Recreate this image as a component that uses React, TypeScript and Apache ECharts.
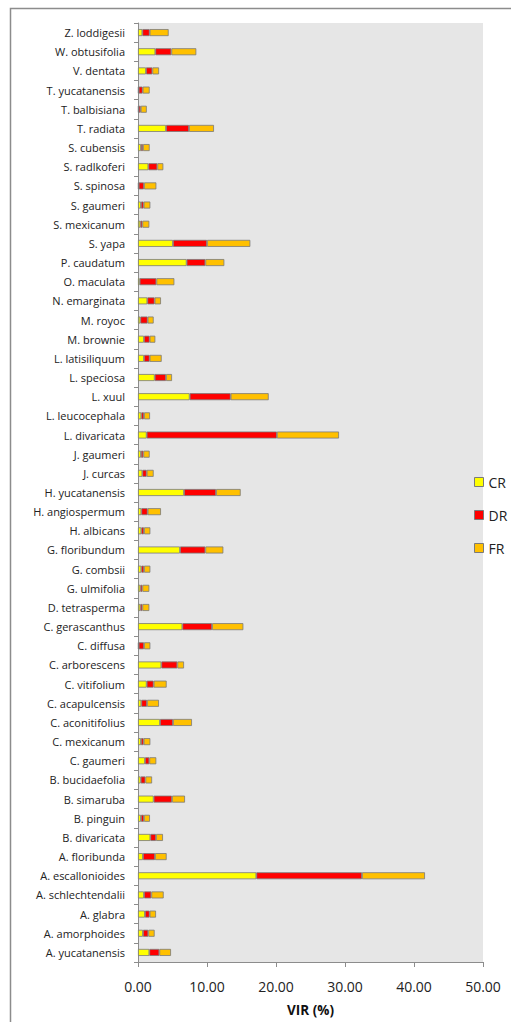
import React, { useEffect, useRef } from "react";
import * as echarts from "echarts";

const categories = [
  "A. yucatanensis", "A. amorphoides", "A. glabra", "A. schlechtendalii", "A. escallonioides",
  "A. floribunda", "B. divaricata", "B. pinguin", "B. simaruba", "B. bucidaefolia",
  "C. gaumeri", "C. mexicanum", "C. aconitifolius", "C. acapulcensis", "C. vitifolium",
  "C. arborescens", "C. diffusa", "C. gerascanthus", "D. tetrasperma", "G. ulmifolia",
  "G. combsii", "G. floribundum", "H. albicans", "H. angiospermum", "H. yucatanensis",
  "J. curcas", "J. gaumeri", "L. divaricata", "L. leucocephala", "L. xuul",
  "L. speciosa", "L. latisiliquum", "M. brownie", "M. royoc", "N. emarginata",
  "O. maculata", "P. caudatum", "S. yapa", "S. mexicanum", "S. gaumeri",
  "S. spinosa", "S. radlkoferi", "S. cubensis", "T. radiata", "T. balbisiana",
  "T. yucatanensis", "V. dentata", "W. obtusifolia", "Z. loddigesii",
];

const CR = [
  1.64, 0.72, 1.01, 0.87, 17.15,
  0.72, 1.79, 0.43, 2.27, 0.39,
  1.01, 0.43, 3.19, 0.48, 1.26,
  3.38, 0.1, 6.43, 0.34, 0.34,
  0.48, 6.09, 0.48, 0.48, 6.67,
  0.63, 0.43, 1.26, 0.48, 7.49,
  2.42, 0.87, 0.87, 0.34, 1.35,
  0.24, 7.05, 5.07, 0.34, 0.43,
  0.1, 1.5, 0.43, 4.06, 0.1,
  0.1, 1.16, 2.51, 0.63,
];

const DR = [
  1.45, 0.77, 0.68, 1.06, 15.31,
  1.74, 0.82, 0.43, 2.66, 0.68,
  0.63, 0.39, 1.88, 0.82, 1.01,
  2.32, 0.77, 4.3, 0.29, 0.29,
  0.39, 3.67, 0.39, 0.92, 4.64,
  0.63, 0.34, 18.87, 0.39, 5.94,
  1.64, 0.82, 0.82, 1.06, 1.06,
  2.42, 2.71, 4.93, 0.29, 0.39,
  0.77, 1.3, 0.29, 3.33, 0.3,
  0.58, 0.92, 2.32, 1.06,
];

const FR = [
  1.69, 0.92, 0.92, 1.79, 9.13,
  1.69, 1.01, 0.87, 1.88, 0.97,
  1.01, 0.97, 2.75, 1.74, 1.88,
  0.97, 0.92, 4.54, 1.01, 1.01,
  0.92, 2.61, 0.92, 1.93, 3.57,
  1.01, 0.92, 9.0, 0.87, 5.51,
  0.87, 1.74, 0.82, 0.87, 0.92,
  2.61, 2.75, 6.28, 1.01, 0.97,
  1.79, 0.87, 0.97, 3.62, 0.87,
  1.01, 0.97, 3.62, 2.75,
];

const seriesNames = ["CR", "DR", "FR"];
const seriesColors = ["#FFFF00", "#FF0000", "#FFC000"];

export default function App() {
  const ref = useRef<HTMLDivElement>(null);

  useEffect(() => {
    document.body.style.margin = "0";
    if (!ref.current) return;
    const chart = echarts.init(ref.current, undefined, { renderer: "svg" });
    const dataSets = [CR, DR, FR];
    const font = "'Open Sans', sans-serif";
    chart.setOption({
      animation: false,
      backgroundColor: "#ffffff",
      textStyle: { fontFamily: font },
      graphic: [
        {
          type: "rect",
          shape: { x: 10.5, y: 8.5, width: 520, height: 1040 },
          style: { fill: "none", stroke: "#8c8c8c", lineWidth: 1.5 },
          silent: true,
        },
      ],
      grid: {
        left: 138,
        right: 28,
        top: 23,
        bottom: 52,
        show: true,
        backgroundColor: "#E6E6E6",
        borderWidth: 0,
      },
      legend: {
        orient: "vertical",
        left: 469,
        top: 470,
        itemWidth: 9,
        itemHeight: 9,
        itemGap: 19,
        icon: "rect",
        itemStyle: { borderColor: "#7a7a7a", borderWidth: 1 },
        data: seriesNames,
        textStyle: { fontSize: 14, color: "#222", fontFamily: font },
      },
      xAxis: {
        type: "value",
        min: 0,
        max: 50,
        interval: 10,
        name: "VIR (%)",
        nameLocation: "middle",
        nameGap: 41,
        nameTextStyle: { fontSize: 13.5, fontWeight: "bold", color: "#111", fontFamily: font },
        axisLine: { show: true, lineStyle: { color: "#8c8c8c", width: 1 } },
        axisTick: { show: true, length: 5, lineStyle: { color: "#8c8c8c" } },
        splitLine: { show: false },
        axisLabel: {
          margin: 17,
          fontSize: 14,
          color: "#222",
          fontFamily: font,
          formatter: (v: number) => v.toFixed(2),
        },
      },
      yAxis: {
        type: "category",
        data: categories,
        axisLine: { show: true, lineStyle: { color: "#8c8c8c", width: 1 } },
        axisTick: { show: true, length: 4, lineStyle: { color: "#8c8c8c" } },
        axisLabel: { margin: 13, fontSize: 11, color: "#222", fontFamily: font, interval: 0 },
        splitLine: { show: false },
      },
      series: seriesNames.map((name, i) => ({
        name,
        type: "bar",
        stack: "total",
        data: dataSets[i],
        barWidth: 7,
        itemStyle: { color: seriesColors[i], borderColor: "#7a7a7a", borderWidth: 0.8 },
        emphasis: { disabled: true },
      })),
    });
    return () => chart.dispose();
  }, []);

  return <div ref={ref} style={{ width: 511, height: 1022 }} />;
}
